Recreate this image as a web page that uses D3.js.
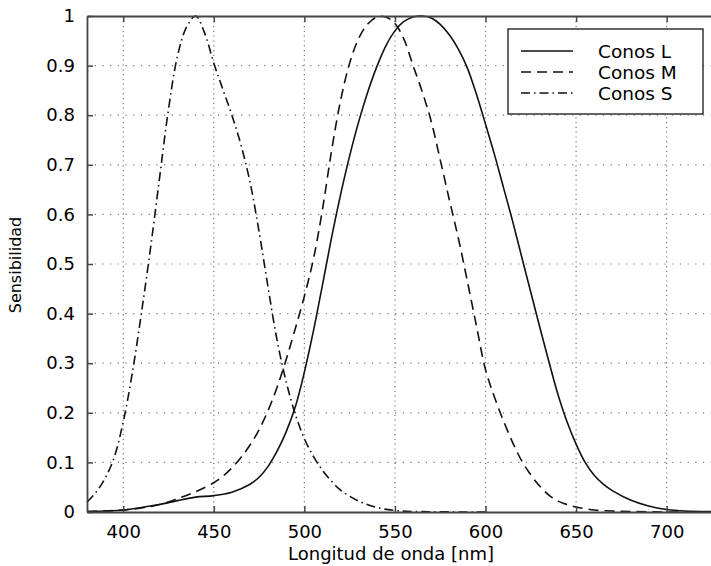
<!DOCTYPE html>
<html>
<head>
<meta charset="utf-8">
<script src="https://cdn.jsdelivr.net/npm/d3@7"></script>
<style>
    body { margin: 0; background: #fff; }
    svg text { font-family: "DejaVu Sans", sans-serif; fill: #000; }
</style>
</head>
<body>
<div id="chart"></div>
<script>
// Data (wavelength in nm, relative sensitivity)
const lambdaL = [380, 390, 400, 410, 420, 430, 440, 450, 460, 470, 475, 480, 485, 490, 495, 500, 505, 510, 515, 520, 525, 530, 535, 540, 545, 550, 555, 560, 565, 570, 575, 580, 585, 590, 595, 600, 605, 610, 615, 620, 625, 630, 635, 640, 645, 650, 655, 660, 665, 670, 680, 690, 700, 710, 730];
const valuesL = [0.001, 0.002, 0.004, 0.009, 0.015, 0.023, 0.03, 0.033, 0.04, 0.056, 0.07, 0.092, 0.123, 0.162, 0.212, 0.282, 0.365, 0.458, 0.553, 0.64, 0.718, 0.787, 0.847, 0.898, 0.94, 0.97, 0.989, 0.998, 1.0, 0.996, 0.983, 0.962, 0.933, 0.895, 0.842, 0.782, 0.72, 0.653, 0.586, 0.514, 0.443, 0.372, 0.303, 0.237, 0.182, 0.137, 0.1, 0.074, 0.056, 0.043, 0.024, 0.012, 0.005, 0.002, 0.001];

const lambdaM = [380, 390, 400, 410, 420, 430, 440, 450, 455, 460, 465, 470, 475, 480, 485, 490, 495, 500, 505, 510, 515, 520, 525, 530, 535, 540, 545, 550, 555, 560, 565, 570, 575, 580, 585, 590, 595, 600, 605, 610, 615, 620, 625, 630, 635, 640, 645, 650, 660, 670, 680, 700, 730];
const valuesM = [0.001, 0.002, 0.004, 0.008, 0.015, 0.027, 0.041, 0.059, 0.072, 0.089, 0.11, 0.135, 0.166, 0.205, 0.252, 0.308, 0.37, 0.435, 0.51, 0.61, 0.728, 0.83, 0.905, 0.955, 0.984, 0.998, 0.998, 0.985, 0.953, 0.9, 0.848, 0.788, 0.71, 0.63, 0.552, 0.465, 0.375, 0.287, 0.231, 0.183, 0.14, 0.103, 0.075, 0.052, 0.034, 0.022, 0.015, 0.01, 0.004, 0.002, 0.001, 0, 0];

const lambdaS = [380, 385, 390, 395, 400, 405, 410, 415, 420, 425, 430, 435, 440, 445, 450, 455, 460, 465, 470, 475, 480, 485, 490, 495, 500, 505, 510, 515, 520, 530, 540, 550, 560, 600];
const valuesS = [0.02, 0.04, 0.068, 0.11, 0.182, 0.28, 0.4, 0.53, 0.672, 0.812, 0.92, 0.978, 1.0, 0.965, 0.905, 0.852, 0.8, 0.74, 0.665, 0.565, 0.452, 0.345, 0.262, 0.197, 0.148, 0.112, 0.084, 0.062, 0.044, 0.022, 0.009, 0.003, 0.001, 0];

const seriesNames = ['Conos L', 'Conos M', 'Conos S'];
const xTicks = [400, 450, 500, 550, 600, 650, 700];
const yTicks = [0, 0.1, 0.2, 0.3, 0.4, 0.5, 0.6, 0.7, 0.8, 0.9, 1];
const yTickLabels = ['0', '0.1', '0.2', '0.3', '0.4', '0.5', '0.6', '0.7', '0.8', '0.9', '1'];

const width = 711, height = 566;
const margin = { left: 87, top: 16, bottom: 54 };
const plotRight = 721; // frame runs past the right edge of the picture

function drawChart() {
    const svg = d3.select('#chart')
        .append('svg')
        .attr('width', width)
        .attr('height', height);

    const xScale = d3.scaleLinear()
        .domain([380, 730])
        .range([margin.left, plotRight]);

    const yScale = d3.scaleLinear()
        .domain([0, 1])
        .range([height - margin.bottom, margin.top]);

    const x0 = margin.left, x1 = plotRight;
    const y0 = height - margin.bottom, y1 = margin.top;

    // Dotted grid
    const grid = svg.append('g').attr('class', 'grid');
    grid.selectAll('.vgrid')
        .data(xTicks)
        .enter().append('line')
        .attr('x1', d => xScale(d)).attr('x2', d => xScale(d))
        .attr('y1', y0).attr('y2', y1)
        .style('stroke', '#777')
        .style('stroke-width', 1.2)
        .style('stroke-dasharray', '1.2,3.6');
    grid.selectAll('.hgrid')
        .data(yTicks.slice(1, -1))
        .enter().append('line')
        .attr('x1', x0).attr('x2', x1)
        .attr('y1', d => yScale(d)).attr('y2', d => yScale(d))
        .style('stroke', '#777')
        .style('stroke-width', 1.2)
        .style('stroke-dasharray', '1.2,6.5');

    // Curves
    const line = d3.line()
        .x(d => xScale(d[0]))
        .y(d => yScale(Math.max(0, d[1])))
        .curve(d3.curveCatmullRom.alpha(0.5));

    const curves = [
        { pts: d3.zip(lambdaL, valuesL), dash: null },
        { pts: d3.zip(lambdaM, valuesM), dash: '10,6' },
        { pts: d3.zip(lambdaS, valuesS), dash: '9,4,1.5,4' }
    ];

    svg.append('g').selectAll('path')
        .data(curves)
        .enter().append('path')
        .attr('d', d => line(d.pts))
        .style('fill', 'none')
        .style('stroke', '#111')
        .style('stroke-width', 1.6)
        .style('stroke-dasharray', d => d.dash);

    // Frame with inward ticks
    const axisStyle = g => {
        g.select('.domain').style('stroke', '#444').style('stroke-width', 1.8);
        g.selectAll('.tick line').style('stroke', '#444').style('stroke-width', 1.5);
        g.selectAll('text')
            .style('font-family', '"DejaVu Sans", sans-serif')
            .style('font-size', '18px')
            .style('fill', '#000');
    };

    svg.append('g')
        .attr('transform', `translate(0, ${y0})`)
        .call(d3.axisBottom(xScale).tickValues(xTicks).tickSizeInner(-6).tickSizeOuter(0).tickPadding(13))
        .call(axisStyle);

    svg.append('g')
        .attr('transform', `translate(0, ${y1})`)
        .call(d3.axisTop(xScale).tickValues(xTicks).tickSizeInner(-6).tickSizeOuter(0).tickFormat(''))
        .call(axisStyle);

    svg.append('g')
        .attr('transform', `translate(${x0}, 0)`)
        .call(d3.axisLeft(yScale).tickValues(yTicks).tickSizeInner(-6).tickSizeOuter(0).tickPadding(12)
            .tickFormat((d, i) => yTickLabels[i]))
        .call(axisStyle);

    svg.append('g')
        .attr('transform', `translate(${x1}, 0)`)
        .call(d3.axisRight(yScale).tickValues(yTicks).tickSizeInner(-6).tickSizeOuter(0).tickFormat(''))
        .call(axisStyle);

    // Axis titles
    svg.append('text')
        .attr('x', 391)
        .attr('y', 560)
        .attr('text-anchor', 'middle')
        .style('font-size', '18px')
        .text('Longitud de onda [nm]');

    svg.append('text')
        .attr('transform', `translate(21, 265) rotate(-90)`)
        .attr('text-anchor', 'middle')
        .style('font-size', '16px')
        .text('Sensibilidad');

    // Legend
    const legend = svg.append('g');
    legend.append('rect')
        .attr('x', 508).attr('y', 29)
        .attr('width', 195).attr('height', 85)
        .style('fill', '#fff')
        .style('stroke', '#333')
        .style('stroke-width', 1.5);

    const rowY = [51, 72, 93];
    seriesNames.forEach((name, i) => {
        legend.append('line')
            .attr('x1', 521).attr('x2', 573)
            .attr('y1', rowY[i]).attr('y2', rowY[i])
            .style('stroke', '#111')
            .style('stroke-width', 1.6)
            .style('stroke-dasharray', curves[i].dash);
        legend.append('text')
            .attr('x', 598)
            .attr('y', rowY[i] + 7)
            .style('font-size', '18.5px')
            .text(name);
    });
}

document.addEventListener('DOMContentLoaded', drawChart);
</script>
</body>
</html>
